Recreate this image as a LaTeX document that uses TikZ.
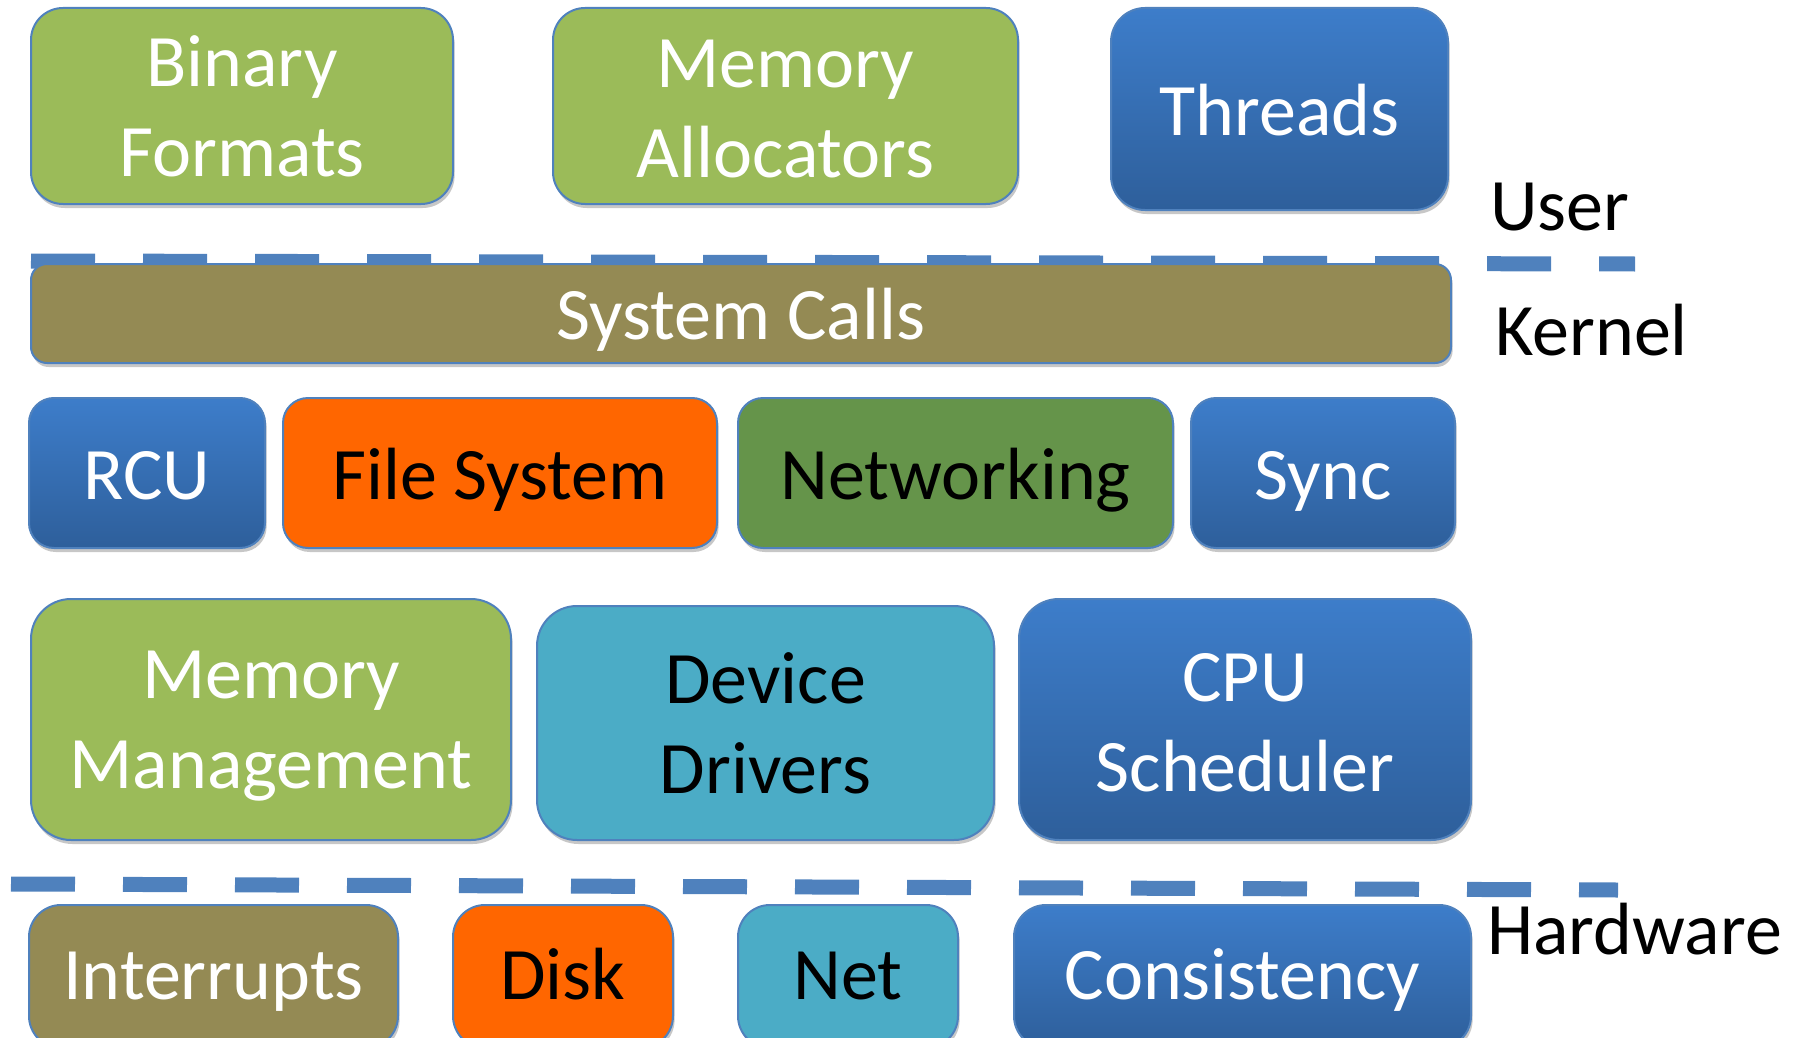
\documentclass[tikz,border=0pt]{standalone}
\usepackage{fontspec}
\setmainfont{Carlito}
\usetikzlibrary{shadows}
\definecolor{lgreen}{HTML}{9BBB59}
\definecolor{olive}{HTML}{948A54}
\definecolor{orng}{HTML}{FF6600}
\definecolor{teal}{HTML}{4BACC6}
\definecolor{dgreen}{HTML}{65944A}
\definecolor{btop}{HTML}{3D7DCA}
\definecolor{bbot}{HTML}{2E5F9B}
\definecolor{edge}{HTML}{4F81BD}
\tikzset{
  bx/.style={draw=edge, line width=1pt, inner sep=0pt, align=center,
    font=\fontsize{37}{45}\selectfont,
    drop shadow={shadow xshift=0.8pt, shadow yshift=-2pt, opacity=0.22, fill=black}},
  one/.style={text height=27pt, text depth=1pt},
  onehw/.style={text height=27pt, text depth=4.4pt},
  gbox/.style={bx, fill=lgreen, text=white},
  obox/.style={bx, fill=olive, text=white},
  orbox/.style={bx, fill=orng, text=black},
  tbox/.style={bx, fill=teal, text=black},
  dgbox/.style={bx, fill=dgreen, text=black},
  bbox/.style={bx, top color=btop, bottom color=bbot, text=white},
  sep/.style={draw=edge, line width=7.5pt, dash pattern=on 32pt off 24pt},
  lbl/.style={anchor=west, inner sep=0pt, text=black, font=\fontsize{37}{45}\selectfont}
}
\begin{document}
\begin{tikzpicture}[x=0.5pt, y=-0.5pt]
\useasboundingbox (0,0) rectangle (1799,1038);
\clip (0,0) rectangle (1799,1038);
% separators
\coordinate (u1) at (31,261);
\coordinate (u2) at (1635,264);
\coordinate (h1) at (11,884);
\coordinate (h2) at (1618,890);
\draw[sep] (u1) -- (u2);
\draw[sep] (h1) -- (h2);
% user row
\node[gbox, rounded corners=16pt, minimum width=211pt, minimum height=98pt] (bin) at (242,106) {Binary\\Formats};
\node[gbox, rounded corners=16pt, minimum width=232.5pt, minimum height=98pt] (alloc) at (785.5,106) {Memory\rule{0pt}{26.7pt}\\Allocators};
\node[bbox, one, rounded corners=17pt, minimum width=168.5pt, minimum height=101pt] (thr) at (1279.5,109) {Threads};
% system calls
\node[obox, one, rounded corners=8pt, minimum width=710pt, minimum height=49.5pt] (sys) at (741,313.5) {System Calls};
% kernel row 1
\node[bbox, one, rounded corners=12.5pt, minimum width=118pt, minimum height=75pt] (rcu) at (147,473) {RCU};
\node[orbox, one, rounded corners=12.5pt, minimum width=217pt, minimum height=75pt] (fs) at (500,473) {File System};
\node[dgbox, one, rounded corners=12.5pt, minimum width=217.5pt, minimum height=75pt] (net) at (955.5,473) {Networking};
\node[bbox, one, rounded corners=12.5pt, minimum width=132pt, minimum height=75pt] (sync) at (1323,473) {Sync};
% kernel row 2
\node[gbox, rounded corners=20pt, minimum width=240pt, minimum height=120.5pt] (mm) at (271,719.5) {Memory\\\raisebox{0pt}[\height][0pt]{Management}};
\node[tbox, rounded corners=20pt, minimum width=228.5pt, minimum height=117pt] (dd) at (765.5,723) {Device\\Drivers};
\node[bbox, rounded corners=20pt, minimum width=226pt, minimum height=120.5pt] (cpu) at (1245,719.5) {CPU\rule{0pt}{27.2pt}\\Scheduler};
% hardware row
\node[obox, onehw, rounded corners=16pt, minimum width=184.5pt, minimum height=71.5pt] (intr) at (213.5,976.5) {Interrupts};
\node[orbox, onehw, rounded corners=16pt, minimum width=110pt, minimum height=71.5pt] (disk) at (563,976.5) {Disk};
\node[tbox, onehw, rounded corners=16pt, minimum width=110pt, minimum height=71.5pt] (hnet) at (848,976.5) {Net};
\node[bbox, onehw, rounded corners=16pt, minimum width=228.5pt, minimum height=71.5pt] (cons) at (1242.5,976.5) {Consistency};
% labels
\node[lbl] (user) at (1490,207) {User};
\node[lbl] (kern) at (1495,330) {Kernel};
\node[lbl] (hw) at (1487,929) {Hardware};
\end{tikzpicture}
\end{document}
